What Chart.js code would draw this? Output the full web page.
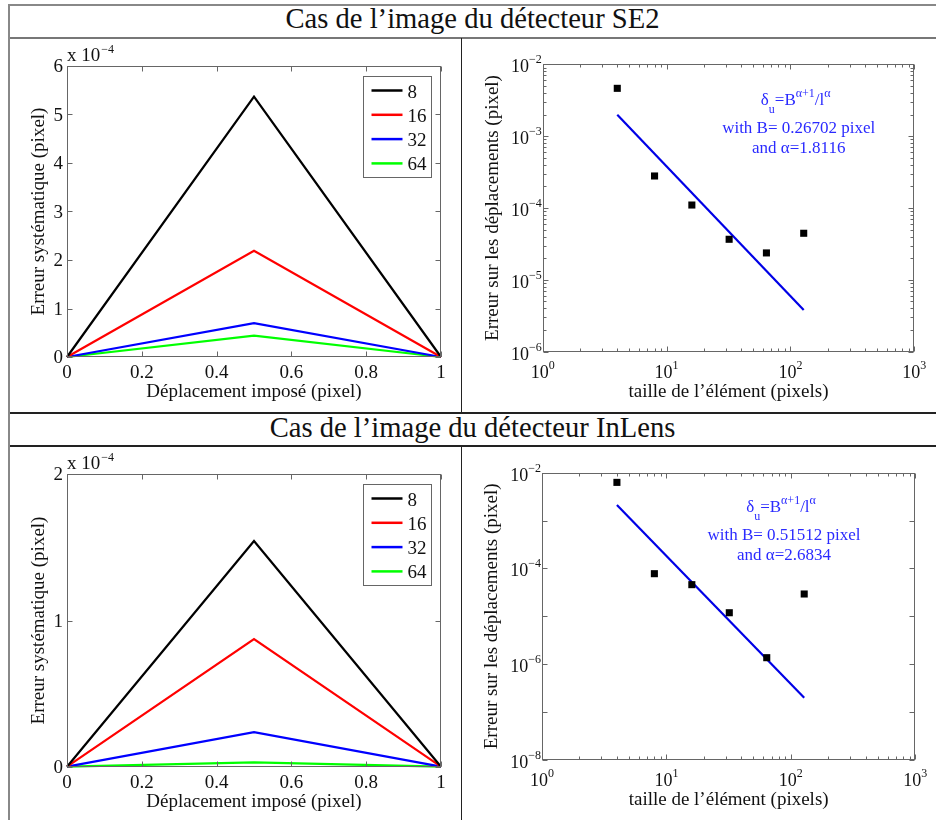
<!DOCTYPE html>
<html>
<head>
<meta charset="utf-8">
<script src="https://cdn.jsdelivr.net/npm/chart.js@4.4.0/dist/chart.umd.min.js"></script>
<style>
  body { margin: 0; background: #fff; width: 936px; height: 820px; position: relative; overflow: hidden; font-family: "Liberation Serif", serif; }
  .hline { position: absolute; left: 8px; right: 0; height: 0; }
  .vline { position: absolute; width: 0; }
  .head { position: absolute; left: 9px; right: 0; text-align: center; font-size: 28.6px; line-height: 33px; color: #111; white-space: nowrap; }
  canvas { position: absolute; }
</style>
</head>
<body>
<div class="hline" style="top:4px;border-top:2px solid #888"></div>
<div class="hline" style="top:37px;border-top:2px solid #777"></div>
<div class="hline" style="top:412px;border-top:2px solid #222"></div>
<div class="hline" style="top:445px;border-top:2px solid #222"></div>
<div class="vline" style="left:8px;top:4px;height:816px;border-left:2px solid #888"></div>
<div class="vline" style="left:461px;top:38px;height:375px;border-left:1px solid #222"></div>
<div class="vline" style="left:461px;top:446px;height:374px;border-left:1px solid #222"></div>
<div class="head" style="top:2px">Cas de l’image du détecteur SE2</div>
<div class="head" style="top:411px">Cas de l’image du détecteur InLens</div>

<canvas id="se2_err"></canvas>
<canvas id="se2_fit"></canvas>
<canvas id="inlens_err"></canvas>
<canvas id="inlens_fit"></canvas>

<script>
// imposed displacement (pixel)
var dispX = [0, 0.5, 1];
var sizeLabels = ['8', '16', '32', '64'];
var sizeColors = ['#000000', '#ff0000', '#0000ff', '#00ff00'];

// systematic error, SE2 detector
var se2Err8  = [0, 5.37e-4, 0];
var se2Err16 = [0, 2.19e-4, 0];
var se2Err32 = [0, 0.70e-4, 0];
var se2Err64 = [0, 0.44e-4, 0];

// systematic error, InLens detector
var inlensErr8  = [0, 1.544e-4, 0];
var inlensErr16 = [0, 0.873e-4, 0];
var inlensErr32 = [0, 0.237e-4, 0];
var inlensErr64 = [0, 0.030e-4, 0];

// displacement error vs element size
var elemSizes = [4, 8, 16, 32, 64, 128];
var se2Measured    = [4.63e-3, 2.79e-4, 1.10e-4, 3.67e-5, 2.37e-5, 4.45e-5];
var inlensMeasured = [6.28e-3, 7.78e-5, 4.59e-5, 1.19e-5, 1.37e-6, 2.93e-5];
var fitSizes  = [4, 128];
var se2Fit    = [1.98e-3, 3.8e-6];
var inlensFit = [2.11e-3, 2.0e-7];

// tick values
var linXTicks = [0, 0.2, 0.4, 0.6, 0.8, 1];
var se2YTicks = [0, 1, 2, 3, 4, 5, 6];
var inlensYTicks = [0, 1, 2];
var logXTicks = [0, 1, 2, 3];
var se2LogYTicks = [-6, -5, -4, -3, -2];
var inlensLogYTicks = [-8, -6, -4, -2];

var se2Note = ['with B= 0.26702 pixel', 'and α=1.8116'];
var inlensNote = ['with B= 0.51512 pixel', 'and α=2.6834'];

var FONT = '"Liberation Serif", "Times New Roman", serif';
var AXIS = '#666';

function font(px) { return px + 'px ' + FONT; }

function pts(xs, ys) {
  return xs.map(function(x, i) { return {x: x, y: ys[i]}; });
}

// draw "10" with a raised exponent, anchored by align
function drawPow(ctx, x, y, exp, align) {
  var base = '10', sup = String(exp).replace('-', '\u2212');
  ctx.font = font(18);
  var wb = ctx.measureText(base).width;
  ctx.font = font(12);
  var ws = ctx.measureText(sup).width;
  var x0 = x;
  if (align === 'center') x0 = x - (wb + ws) / 2;
  if (align === 'right') x0 = x - wb - ws;
  ctx.textAlign = 'left';
  ctx.font = font(18);
  ctx.fillText(base, x0, y);
  ctx.font = font(12);
  ctx.fillText(sup, x0 + wb, y - 9);
}

function drawRuns(ctx, cx, y, runs) {
  var total = 0;
  runs.forEach(function(r) {
    ctx.font = font(r[1] === 'n' ? 17 : 12);
    r.w = ctx.measureText(r[0]).width;
    total += r.w;
  });
  var x = cx - total / 2;
  ctx.textAlign = 'left';
  runs.forEach(function(r) {
    ctx.font = font(r[1] === 'n' ? 17 : 12);
    var dy = r[1] === 'sup' ? -8 : (r[1] === 'sub' ? 8 : 0);
    ctx.fillText(r[0], x, y + dy);
    x += r.w;
  });
}

function matlabAxes(spec) {
  return {
    id: 'matlabAxes',
    afterDatasetsDraw: function(chart) {
      var ctx = chart.ctx, a = chart.chartArea;
      var xs = chart.scales.x, ys = chart.scales.y;
      var L = Math.round(a.left) + 0.5, R = Math.round(a.right) - 0.5;
      var T = Math.round(a.top) + 0.5, B = Math.round(a.bottom) - 0.5;
      ctx.save();
      ctx.strokeStyle = AXIS;
      ctx.lineWidth = 1;

      function xTick(px, len) {
        ctx.beginPath();
        ctx.moveTo(px, B); ctx.lineTo(px, B - len);
        ctx.moveTo(px, T); ctx.lineTo(px, T + len);
        ctx.stroke();
      }
      function yTick(py, len) {
        ctx.beginPath();
        ctx.moveTo(L, py); ctx.lineTo(L + len, py);
        ctx.moveTo(R, py); ctx.lineTo(R - len, py);
        ctx.stroke();
      }

      ctx.fillStyle = '#111';
      if (spec.log) {
        // x: decades with minor ticks
        logXTicks.forEach(function(e, i) {
          var v = Math.pow(10, e);
          xTick(Math.round(xs.getPixelForValue(v)) + 0.5, 5);
          if (i < logXTicks.length - 1) {
            for (var m = 2; m <= 9; m++) xTick(Math.round(xs.getPixelForValue(m * v)) + 0.5, 3);
          }
          drawPow(ctx, xs.getPixelForValue(v), a.bottom + 26, e, 'center');
        });
        var yt = spec.yTicks;
        for (var e = yt[0]; e <= yt[yt.length - 1]; e++) {
          var v = Math.pow(10, e);
          yTick(Math.round(ys.getPixelForValue(v)) + 0.5, 5);
          if (spec.yMinor && e < yt[yt.length - 1]) {
            for (var m = 2; m <= 9; m++) yTick(Math.round(ys.getPixelForValue(m * v)) + 0.5, 3);
          }
        }
        yt.forEach(function(e) {
          drawPow(ctx, a.left - 1, ys.getPixelForValue(Math.pow(10, e)) + 8, e, 'right');
        });
      } else {
        ctx.font = font(19);
        linXTicks.forEach(function(v) {
          var px = xs.getPixelForValue(v);
          xTick(Math.round(px) + 0.5, 5);
          ctx.textAlign = 'center';
          ctx.fillText(String(Math.round(v * 10) / 10), px, a.bottom + 21);
        });
        spec.yTicks.forEach(function(v) {
          var py = ys.getPixelForValue(v * 1e-4);
          yTick(Math.round(py) + 0.5, 5);
          ctx.textAlign = 'right';
          ctx.fillText(String(v), a.left - 4, py + 6);
        });
        // exponent multiplier
        ctx.textAlign = 'left';
        ctx.fillText('x 10', a.left, a.top - 5);
        var w = ctx.measureText('x 10').width;
        ctx.font = font(12);
        ctx.fillText('\u22124', a.left + w + 1, a.top - 13);

        // legend
        var bw = 68, bh = 101, bx = Math.round(a.right - 10 - bw) + 0.5, by = Math.round(a.top + 10) + 0.5;
        ctx.fillStyle = '#fff';
        ctx.fillRect(bx, by, bw, bh);
        ctx.strokeStyle = AXIS;
        ctx.strokeRect(bx, by, bw, bh);
        ctx.font = font(19);
        chart.data.datasets.forEach(function(ds, i) {
          var ly = by + 14 + i * 24.3;
          ctx.strokeStyle = ds.borderColor;
          ctx.lineWidth = 2.5;
          ctx.beginPath();
          ctx.moveTo(bx + 8, ly); ctx.lineTo(bx + 39, ly);
          ctx.stroke();
          ctx.fillStyle = '#111';
          ctx.textAlign = 'left';
          ctx.fillText(ds.label, bx + 44, ly + 7);
        });
        ctx.lineWidth = 1;
      }

      // box
      ctx.strokeStyle = AXIS;
      ctx.strokeRect(L, T, R - L, B - T);

      // axis titles
      ctx.fillStyle = '#111';
      ctx.font = font(19);
      ctx.textAlign = 'center';
      ctx.fillText(spec.xTitle, (a.left + a.right) / 2, a.bottom + spec.xTitleDy);
      ctx.save();
      ctx.translate(a.left - spec.yTitleDx, (a.top + a.bottom) / 2);
      ctx.rotate(-Math.PI / 2);
      ctx.fillText(spec.yTitle, 0, 0);
      ctx.restore();

      // fit annotation
      if (spec.note) {
        ctx.fillStyle = '#2a2aff';
        var cx = a.left + spec.noteDx, ty = a.top + spec.noteDy;
        drawRuns(ctx, cx - 3, ty, [['δ', 'n'], ['u', 'sub'], ['=B', 'n'], ['α+1', 'sup'], ['/l', 'n'], ['α', 'sup']]);
        ctx.font = font(17);
        ctx.textAlign = 'center';
        ctx.fillText(spec.note[0], cx, ty + 28);
        ctx.fillText(spec.note[1], cx, ty + 48);
      }
      ctx.restore();
    }
  };
}

function place(id, cell, plot) {
  var cv = document.getElementById(id);
  cv.width = cell[2]; cv.height = cell[3];
  cv.style.left = cell[0] + 'px'; cv.style.top = cell[1] + 'px';
  return {
    left: plot[0] - cell[0], top: plot[1] - cell[1],
    right: cell[0] + cell[2] - plot[2], bottom: cell[1] + cell[3] - plot[3]
  };
}

function errorChart(id, cell, plot, series, yMax, yTicks) {
  var datasets = series.map(function(vals, i) {
    return {
      label: sizeLabels[i], data: pts(dispX, vals),
      borderColor: sizeColors[i], borderWidth: 2.2,
      pointRadius: 0, tension: 0, clip: false
    };
  });
  new Chart(document.getElementById(id), {
    type: 'line',
    data: {datasets: datasets},
    options: {
      responsive: false, animation: false,
      layout: {padding: place(id, cell, plot)},
      plugins: {legend: {display: false}, tooltip: {enabled: false}},
      scales: {
        x: {type: 'linear', min: 0, max: 1, display: false},
        y: {type: 'linear', min: 0, max: yMax, display: false}
      }
    },
    plugins: [matlabAxes({
      log: false, yTicks: yTicks,
      xTitle: 'Déplacement imposé (pixel)', xTitleDy: 40,
      yTitle: 'Erreur systématique (pixel)', yTitleDx: 23.5
    })]
  });
}

function fitChart(id, cell, plot, measured, fit, yMin, yTicks, yMinor, note, noteDx, noteDy) {
  new Chart(document.getElementById(id), {
    type: 'scatter',
    data: {datasets: [
      {data: pts(elemSizes, measured), pointStyle: 'rect', pointRadius: 5,
       backgroundColor: '#000', borderColor: '#000', borderWidth: 0, clip: false},
      {data: pts(fitSizes, fit), showLine: true, pointRadius: 0,
       borderColor: '#0000e6', borderWidth: 2.2, clip: false}
    ]},
    options: {
      responsive: false, animation: false,
      layout: {padding: place(id, cell, plot)},
      plugins: {legend: {display: false}, tooltip: {enabled: false}},
      scales: {
        x: {type: 'logarithmic', min: 1, max: 1000, display: false},
        y: {type: 'logarithmic', min: yMin, max: 1e-2, display: false}
      }
    },
    plugins: [matlabAxes({
      log: true, yTicks: yTicks, yMinor: yMinor,
      xTitle: 'taille de l’élément (pixels)', xTitleDy: 45,
      yTitle: 'Erreur sur les déplacements (pixel)', yTitleDx: 45,
      note: note, noteDx: noteDx, noteDy: noteDy
    })]
  });
}

errorChart('se2_err', [10, 39, 451, 373], [67, 66, 441, 357],
  [se2Err8, se2Err16, se2Err32, se2Err64], 6e-4, se2YTicks);
errorChart('inlens_err', [10, 448, 451, 372], [67, 474.3, 441, 766.7],
  [inlensErr8, inlensErr16, inlensErr32, inlensErr64], 2e-4, inlensYTicks);
fitChart('se2_fit', [463, 39, 473, 373], [542.7, 64.3, 914.3, 351.7],
  se2Measured, se2Fit, 1e-6, se2LogYTicks, true, se2Note, 256, 41);
fitChart('inlens_fit', [463, 448, 473, 372], [542, 472.7, 915.3, 760],
  inlensMeasured, inlensFit, 1e-8, inlensLogYTicks, false, inlensNote, 242, 39);
</script>
</body>
</html>
